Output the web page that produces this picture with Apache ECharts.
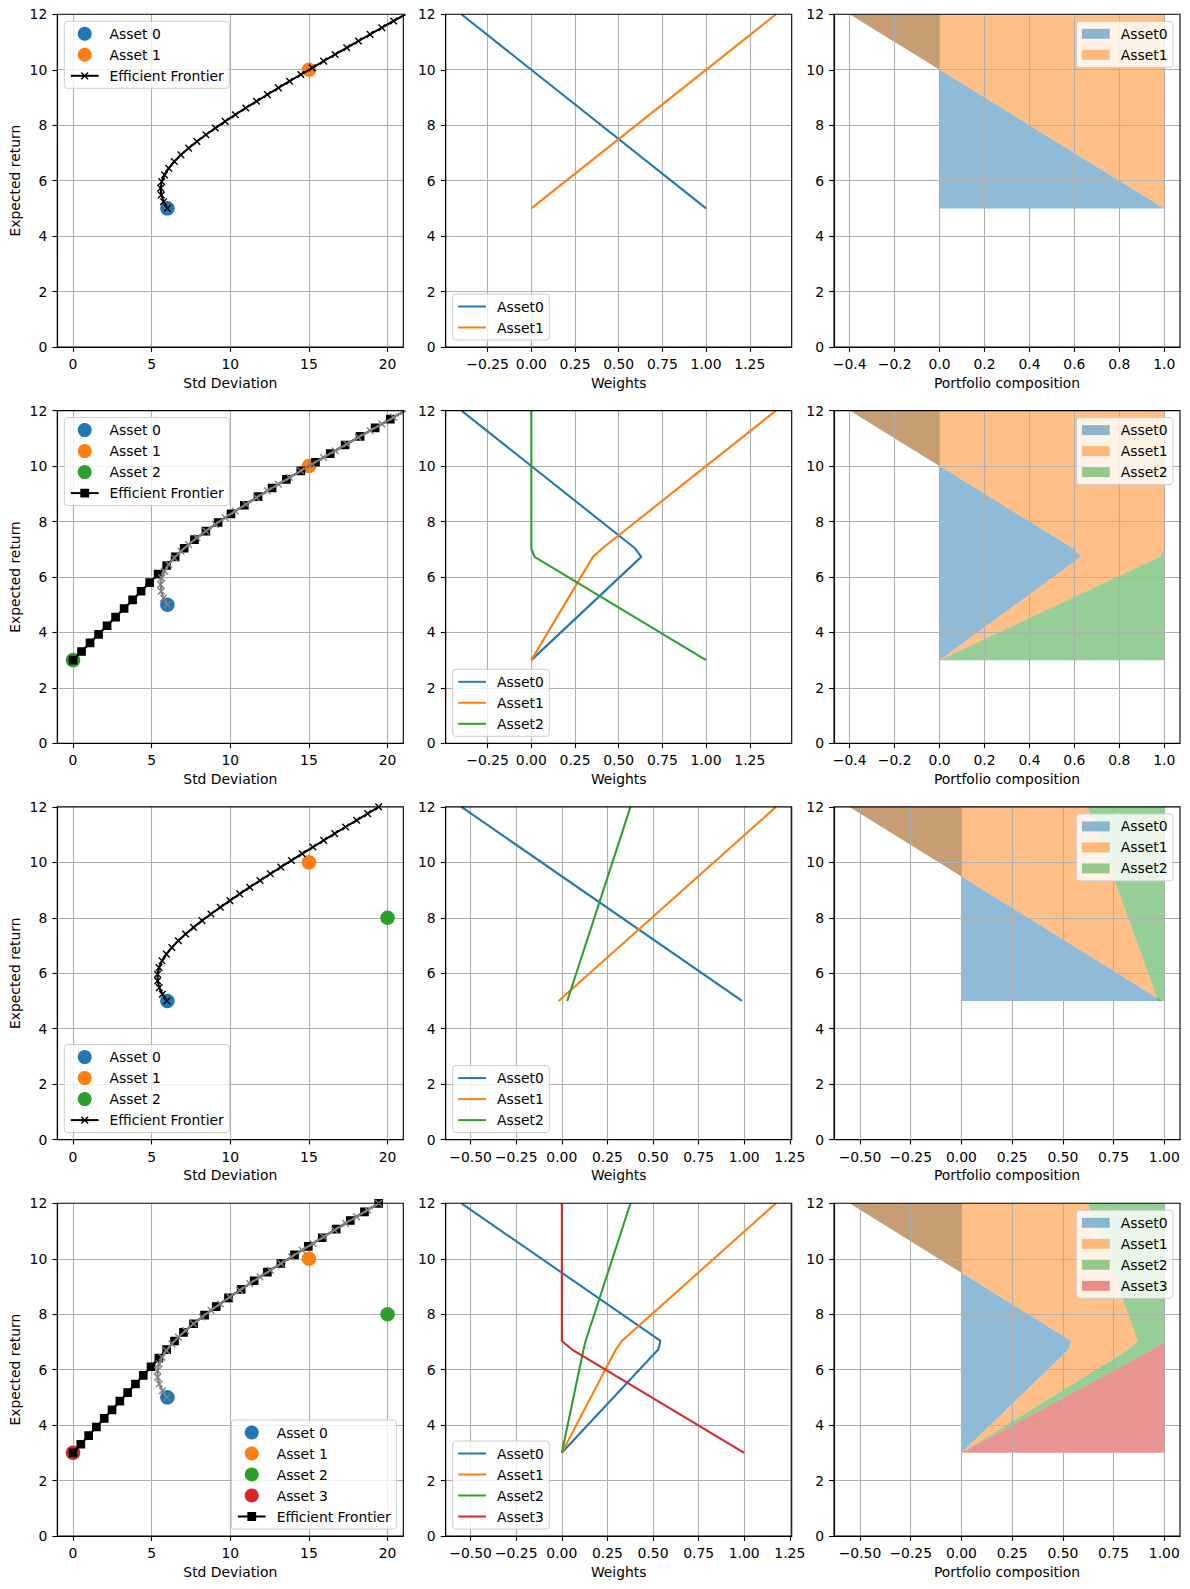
<!DOCTYPE html>
<html>
<head>
<meta charset="utf-8">
<script src="https://cdn.jsdelivr.net/npm/echarts@6/dist/echarts.min.js"></script>
<style>html,body{margin:0;padding:0;background:#fff}#c{width:1190px;height:1589px}</style>
</head>
<body>
<div id="c"></div>
<script>
// ---------------- data ----------------
// target returns along the frontiers
const retFrom5 = [5.0, 5.2414, 5.4828, 5.7241, 5.9655, 6.2069, 6.4483, 6.6897, 6.9310, 7.1724, 7.4138, 7.6552, 7.8966, 8.1379, 8.3793, 8.6207, 8.8621, 9.1034, 9.3448, 9.5862, 9.8276, 10.0690, 10.3103, 10.5517, 10.7931, 11.0345, 11.2759, 11.5172, 11.7586, 12.0];
const retFrom3 = [3.0, 3.3103, 3.6207, 3.9310, 4.2414, 4.5517, 4.8621, 5.1724, 5.4828, 5.7931, 6.1034, 6.4138, 6.7241, 7.0345, 7.3448, 7.6552, 7.9655, 8.2759, 8.5862, 8.8966, 9.2069, 9.5172, 9.8276, 10.1379, 10.4483, 10.7586, 11.0690, 11.3793, 11.6897, 12.0];
// std deviation of the frontier points
const stdTwoAsset = [6.000, 5.756, 5.611, 5.572, 5.642, 5.816, 6.086, 6.440, 6.865, 7.348, 7.878, 8.448, 9.049, 9.675, 10.323, 10.987, 11.666, 12.357, 13.058, 13.768, 14.484, 15.207, 15.935, 16.668, 17.405, 18.146, 18.890, 19.636, 20.385, 21.137];
const stdTwoAssetRF = [0, 0.541, 1.082, 1.624, 2.165, 2.706, 3.247, 3.788, 4.329, 4.871, 5.412, 5.953, 6.494, 7.065, 7.723, 8.448, 9.225, 10.043, 10.892, 11.764, 12.657, 13.564, 14.484, 15.415, 16.354, 17.300, 18.252, 19.209, 20.171, 21.137];
const stdThreeAsset = [5.964, 5.683, 5.485, 5.382, 5.377, 5.472, 5.661, 5.935, 6.284, 6.695, 7.158, 7.663, 8.203, 8.772, 9.363, 9.973, 10.599, 11.238, 11.888, 12.547, 13.215, 13.888, 14.568, 15.253, 15.942, 16.635, 17.331, 18.030, 18.732, 19.437];
const stdThreeAssetRF = [0, 0.496, 0.992, 1.488, 1.984, 2.480, 2.976, 3.472, 3.969, 4.465, 4.961, 5.457, 5.953, 6.453, 7.021, 7.663, 8.363, 9.107, 9.885, 10.690, 11.515, 12.358, 13.215, 14.082, 14.959, 15.843, 16.734, 17.630, 18.531, 19.437];

// individual assets (std, expected return)
const assetStdRow1 = [6, 15];        const assetRetRow1 = [5, 10];
const assetStdRow2 = [6, 15, 0];     const assetRetRow2 = [5, 10, 3];
const assetStdRow3 = [6, 15, 20];    const assetRetRow3 = [5, 10, 8];
const assetStdRow4 = [6, 15, 20, 0]; const assetRetRow4 = [5, 10, 8, 3];

// portfolio weights vs. expected return
const wRetRow1 = [5, 12];
const wRow1Asset0 = [1.0, -0.4];
const wRow1Asset1 = [0.0, 1.4];

const wRetRow2 = [3, 6.7241, 7.0345, 12];
const wRow2Asset0 = [0, 0.6291, 0.5931, -0.4];
const wRow2Asset1 = [0, 0.3523, 0.4069, 1.4];
const wRow2Asset2 = [1, 0.0186, 0, 0];

const wRetRow3 = [5, 12];
const wRow3Asset0 = [0.9882, -0.5506];
const wRow3Asset1 = [-0.0178, 1.1741];
const wRow3Asset2 = [0.0296, 0.3765];

const wRetRow4 = [3, 6.7241, 7.0345, 12];
const wRow4Asset0 = [0, 0.5286, 0.5409, -0.5506];
const wRow4Asset1 = [0, 0.2960, 0.3287, 1.1741];
const wRow4Asset2 = [0, 0.1189, 0.1304, 0.3765];
const wRow4Asset3 = [1, 0.0564, 0, 0];

// tick labels
const ticksStd = [0, 5, 10, 15, 20];
const ticksRet = [0, 2, 4, 6, 8, 10, 12];
const ticksW12 = [-0.25, 0, 0.25, 0.5, 0.75, 1.0, 1.25];
const ticksW34 = [-0.5, -0.25, 0, 0.25, 0.5, 0.75, 1.0, 1.25];
const ticksC12 = [-0.4, -0.2, 0, 0.2, 0.4, 0.6, 0.8, 1.0];
const ticksC34 = [-0.5, -0.25, 0, 0.25, 0.5, 0.75, 1.0];

// ---------------- layout / style ----------------
const CW = 1190, CH = 1589;
const W = 346, H = 332.7;
const colLeft = [57.3, 445.7, 834.0];
const rowTop = [14.3, 410.6, 806.9, 1203.3];
const FONT = 'DejaVu Sans';
const FS = 13.9;
const C = ['#1f77b4', '#ff7f0e', '#2ca02c', '#d62728'];
const CF = ['rgba(31,119,180,0.5)', 'rgba(255,127,14,0.5)', 'rgba(44,160,44,0.5)', 'rgba(214,39,40,0.5)'];
const X_SYM = 'path://M0,0L0,0M2,2L8,8M8,2L2,8M10,10L10,10';
const SQ_SYM = 'path://M0,0L0,0M1.7,1.7L8.3,1.7L8.3,8.3L1.7,8.3ZM10,10L10,10';
const LINE_ICON = 'path://M0,0L0,0M0,6L28,6L28,8L0,8ZM28,14L28,14';
const PATCH_ICON = 'path://M0,0L0,0M0,2L28,2L28,12L0,12ZM28,14L28,14';

const fmt = d => v => (v < 0 ? '\u2212' : '') + Math.abs(v).toFixed(d);

const panels = [
  { aStd: assetStdRow1, aRet: assetRetRow1, fStd: stdTwoAsset, fRet: retFrom5, fSym: X_SYM, gStd: null, gRet: null, leg: 'ul',
    wRet: wRetRow1, w: [wRow1Asset0, wRow1Asset1], wLim: [-0.49, 1.49], wTicks: ticksW12, wDec: 2, cLim: [-0.47, 1.07], cTicks: ticksC12, cDec: 1 },
  { aStd: assetStdRow2, aRet: assetRetRow2, fStd: stdTwoAssetRF, fRet: retFrom3, fSym: SQ_SYM, gStd: stdTwoAsset, gRet: retFrom5, leg: 'ul',
    wRet: wRetRow2, w: [wRow2Asset0, wRow2Asset1, wRow2Asset2], wLim: [-0.49, 1.49], wTicks: ticksW12, wDec: 2, cLim: [-0.47, 1.07], cTicks: ticksC12, cDec: 1 },
  { aStd: assetStdRow3, aRet: assetRetRow3, fStd: stdThreeAsset, fRet: retFrom5, fSym: X_SYM, gStd: null, gRet: null, leg: 'll',
    wRet: wRetRow3, w: [wRow3Asset0, wRow3Asset1, wRow3Asset2], wLim: [-0.6368, 1.2604], wTicks: ticksW34, wDec: 2, cLim: [-0.6281, 1.0775], cTicks: ticksC34, cDec: 2 },
  { aStd: assetStdRow4, aRet: assetRetRow4, fStd: stdThreeAssetRF, fRet: retFrom3, fSym: SQ_SYM, gStd: stdThreeAsset, gRet: retFrom5, leg: 'lr',
    wRet: wRetRow4, w: [wRow4Asset0, wRow4Asset1, wRow4Asset2, wRow4Asset3], wLim: [-0.6368, 1.2604], wTicks: ticksW34, wDec: 2, cLim: [-0.6281, 1.0775], cTicks: ticksC34, cDec: 2 }
];

const grids = [], xAxes = [], yAxes = [], series = [], legends = [];
const txt = { color: '#000', fontSize: FS, fontFamily: FONT };

function addPanel(row, col, xmin, xmax, xticks, xdec, xname, yname, axisZ) {
  const gi = grids.length;
  grids.push({ left: colLeft[col], top: rowTop[row], width: W, height: H, containLabel: false, outerBoundsMode: 'none',
    show: true, borderColor: '#000', borderWidth: 1.1, backgroundColor: 'transparent', z: 5 });
  xAxes.push({ type: 'value', gridIndex: gi, min: xmin, max: xmax, z: axisZ,
    axisLine: { show: true, onZero: false, lineStyle: { color: '#000', width: 1.1 } },
    axisTick: { show: true, customValues: xticks, length: 4.9, lineStyle: { color: '#000', width: 1.1 } },
    axisLabel: Object.assign({ show: true, customValues: xticks, margin: 10, formatter: fmt(xdec) }, txt),
    splitLine: { show: true, lineStyle: { color: '#b0b0b0', width: 1.1 } },
    name: xname, nameLocation: 'middle', nameGap: 28.7, nameTextStyle: txt });
  yAxes.push({ type: 'value', gridIndex: gi, min: 0, max: 12, interval: 2, z: axisZ,
    axisLine: { show: true, onZero: false, lineStyle: { color: '#000', width: 1.1 } },
    axisTick: { show: true, length: 4.9, lineStyle: { color: '#000', width: 1.1 } },
    axisLabel: Object.assign({ show: true, margin: 10, formatter: fmt(0) }, txt),
    splitLine: { show: true, showMinLine: false, showMaxLine: false, lineStyle: { color: '#b0b0b0', width: 1.1 } },
    name: yname, nameLocation: 'middle', nameGap: 35.3, nameTextStyle: txt });
  return gi;
}

function legendPos(pos, col, row) {
  const L = colLeft[col], T = rowTop[row], R = L + W, B = T + H, p = 7;
  if (pos === 'ul') return { left: L + p, top: T + p };
  if (pos === 'll') return { left: L + p, bottom: CH - (B - p) };
  if (pos === 'lr') return { right: CW - (R - p), bottom: CH - (B - p) };
  return { right: CW - (R - p), top: T + p };
}

function addLegend(pos, col, row, data) {
  legends.push(Object.assign({
    orient: 'vertical', align: 'left', itemWidth: 27.8, itemHeight: 14, itemGap: 7,
    padding: [5.5, 5.5, 5.5, 5.5], backgroundColor: 'rgba(255,255,255,0.8)', borderColor: '#cccccc', borderWidth: 1, borderRadius: 3,
    textStyle: { color: '#000', fontSize: FS, fontFamily: FONT, lineHeight: 14, padding: [0, 0, 0, 6] },
    selectedMode: false, z: 6, data: data, formatter: n => n.split('|')[1]
  }, legendPos(pos, col, row)));
}

const zip = (a, b) => a.map((v, i) => [v, b[i]]);

panels.forEach((p, row) => {
  // ---- column 1: frontier ----
  const g1 = addPanel(row, 0, -1, 21, ticksStd, 0, 'Std Deviation', 'Expected return', 0);
  const leg1 = [];
  p.aStd.forEach((s, i) => {
    const nm = 'g' + g1 + '|Asset ' + i;
    series.push({ type: 'scatter', name: nm, xAxisIndex: g1, yAxisIndex: g1, z: 2, silent: true,
      data: [[s, p.aRet[i]]], symbol: 'circle', symbolSize: 14.5, itemStyle: { color: C[i], opacity: 1 } });
    leg1.push({ name: nm });
  });
  const fn = 'g' + g1 + '|Efficient Frontier';
  series.push({ type: 'line', name: fn, xAxisIndex: g1, yAxisIndex: g1, z: 3, silent: true, clip: true,
    data: zip(p.fStd, p.fRet), symbol: p.fSym, symbolSize: 11, showSymbol: true, showAllSymbol: true,
    lineStyle: { color: '#000', width: 2.08 }, itemStyle: { color: '#000', borderColor: '#000', borderWidth: 1.4 } });
  leg1.push({ name: fn, itemStyle: { borderWidth: 1.4 } });
  if (p.gStd) {
    series.push({ type: 'line', name: 'g' + g1 + '|risky', xAxisIndex: g1, yAxisIndex: g1, z: 4, silent: true, clip: true,
      data: zip(p.gStd, p.gRet), symbol: X_SYM, symbolSize: 11, showSymbol: true, showAllSymbol: true,
      lineStyle: { color: '#808080', width: 2.08 }, itemStyle: { color: '#808080', borderColor: '#808080', borderWidth: 1.4 } });
  }
  addLegend(p.leg, 0, row, leg1);

  // ---- column 2: weights ----
  const g2 = addPanel(row, 1, p.wLim[0], p.wLim[1], p.wTicks, p.wDec, 'Weights', '', 0);
  const leg2 = [];
  p.w.forEach((ws, i) => {
    const nm = 'g' + g2 + '|Asset' + i;
    series.push({ type: 'line', name: nm, xAxisIndex: g2, yAxisIndex: g2, z: 2, silent: true,
      data: zip(ws, p.wRet), symbol: 'none', lineStyle: { color: C[i], width: 2.08 }, itemStyle: { color: C[i] } });
    leg2.push({ name: nm, icon: LINE_ICON, itemStyle: { color: C[i], borderWidth: 0 } });
  });
  addLegend('ll', 1, row, leg2);

  // ---- column 3: composition ----
  const g3 = addPanel(row, 2, p.cLim[0], p.cLim[1], p.cTicks, p.cDec, 'Portfolio composition', '', 2);
  const leg3 = [];
  let cum = p.wRet.map(() => 0);
  p.w.forEach((ws, i) => {
    const lefts = cum.slice();
    const rights = cum.map((c, k) => c + ws[k]);
    cum = rights;
    const pts = p.wRet.map((r, k) => [lefts[k], rights[k], r]);
    const nm = 'g' + g3 + '|Asset' + i;
    const col = CF[i];
    series.push({ type: 'custom', name: nm, coordinateSystem: 'cartesian2d', xAxisIndex: g3, yAxisIndex: g3, z: 1, silent: true,
      data: pts, encode: { x: [0, 1], y: 2 }, itemStyle: { color: col },
      renderItem: (params, api) => {
        if (params.dataIndex !== 0) return null;
        const poly = [];
        for (let k = 0; k < pts.length; k++) poly.push(api.coord([pts[k][0], pts[k][2]]));
        for (let k = pts.length - 1; k >= 0; k--) poly.push(api.coord([pts[k][1], pts[k][2]]));
        return { type: 'polygon', shape: { points: poly }, style: { fill: col } };
      } });
    leg3.push({ name: nm, icon: PATCH_ICON, itemStyle: { color: col, borderWidth: 0 } });
  });
  addLegend('ur', 2, row, leg3);
});

const chart = echarts.init(document.getElementById('c'), null, { renderer: 'svg', width: CW, height: CH });
chart.setOption({ animation: false, backgroundColor: '#fff', grid: grids, xAxis: xAxes, yAxis: yAxes, legend: legends, series: series });
</script>
</body>
</html>
